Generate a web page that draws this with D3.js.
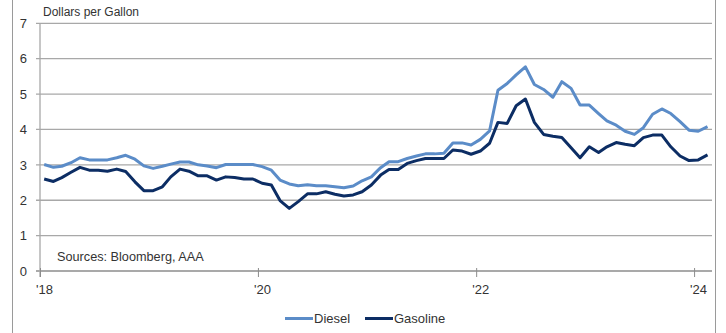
<!DOCTYPE html>
<html>
<head>
<meta charset="utf-8">
<script src="https://cdn.jsdelivr.net/npm/d3@7"></script>
<style>
  html, body { margin: 0; padding: 0; background: #fff; }
  svg { display: block; font-family: "Liberation Sans", Arial, sans-serif; }
</style>
</head>
<body>
<svg id="chart" width="726" height="333"></svg>
<script>
// Monthly average retail prices, Jan 2018 – Feb 2024 (USD per gallon)
const months = d3.timeMonth.range(new Date(2018, 0, 1), new Date(2024, 2, 1));

const diesel = [
  3.01, 2.93, 2.96, 3.06, 3.20, 3.14, 3.14, 3.14, 3.20, 3.27, 3.16, 2.97,
  2.90, 2.96, 3.02, 3.08, 3.08, 3.00, 2.97, 2.92, 3.01, 3.01, 3.01, 3.01,
  2.95, 2.85, 2.57, 2.46, 2.41, 2.44, 2.41, 2.41, 2.38, 2.35, 2.40, 2.55,
  2.66, 2.92, 3.09, 3.09, 3.18, 3.25, 3.31, 3.31, 3.33, 3.62, 3.62, 3.56,
  3.72, 3.96, 5.11, 5.30, 5.54, 5.77, 5.27, 5.13, 4.91, 5.35, 5.16, 4.69,
  4.69, 4.45, 4.24, 4.12, 3.95, 3.86, 4.05, 4.43, 4.58, 4.45, 4.22, 3.98,
  3.95, 4.08
];

const gasoline = [
  2.60, 2.53, 2.64, 2.79, 2.93, 2.85, 2.85, 2.82, 2.88, 2.81, 2.52, 2.27,
  2.27, 2.38, 2.66, 2.88, 2.82, 2.69, 2.69, 2.57, 2.66, 2.64, 2.60, 2.60,
  2.48, 2.43, 1.99, 1.77, 1.96, 2.18, 2.18, 2.24, 2.17, 2.12, 2.15, 2.24,
  2.43, 2.71, 2.87, 2.87, 3.04, 3.12, 3.18, 3.18, 3.18, 3.42, 3.39, 3.30,
  3.39, 3.61, 4.20, 4.17, 4.67, 4.86, 4.20, 3.86, 3.81, 3.77, 3.48, 3.20,
  3.51, 3.35, 3.51, 3.63, 3.58, 3.54, 3.77, 3.84, 3.84, 3.51, 3.25, 3.12,
  3.14, 3.28
];

const seriesNames = ["Diesel", "Gasoline"];
const seriesColors = ["#5b8cc8", "#0c2d64"];
const yTicks = [0, 1, 2, 3, 4, 5, 6, 7];
const xTickYears = [2018, 2020, 2022, 2024];

const svg = d3.select("#chart");
const textColor = "#333";

const plot = { left: 40, right: 712, top: 23.3, bottom: 271 };

const x = d3.scaleTime()
  .domain([new Date(2018, 0, 1), new Date(2024, 2, 1)])
  .range([plot.left, plot.right]);

const y = d3.scaleLinear()
  .domain([0, 7])
  .range([plot.bottom, plot.top]);

// Panel frame edges
svg.append("line").attr("x1", 12.5).attr("x2", 12.5).attr("y1", 0).attr("y2", 333)
  .attr("stroke", "#9a9a9a").attr("stroke-width", 1);
svg.append("line").attr("x1", 715.5).attr("x2", 715.5).attr("y1", 0).attr("y2", 333)
  .attr("stroke", "#9a9a9a").attr("stroke-width", 1);

// Horizontal gridlines with short ticks to the left of the axis
const grid = svg.append("g");
grid.selectAll("line")
  .data(yTicks)
  .join("line")
  .attr("x1", plot.left - 4)
  .attr("x2", plot.right)
  .attr("y1", d => y(d))
  .attr("y2", d => y(d))
  .attr("stroke", d => d === 0 ? "#8c8c8c" : "#a8a8a8")
  .attr("stroke-width", 1.3);

// Y axis labels
const yAxis = d3.axisLeft(y).tickValues(yTicks).tickSize(0).tickPadding(13)
  .tickFormat(d3.format("d"));
svg.append("g")
  .attr("transform", `translate(${plot.left},0)`)
  .call(yAxis)
  .call(g => g.select(".domain").remove())
  .call(g => g.selectAll("text")
    .attr("fill", textColor)
    .style("font-size", "13px")
    .style("font-family", "Liberation Sans, Arial, sans-serif"));

// Vertical axis line
svg.append("line")
  .attr("x1", plot.left).attr("x2", plot.left)
  .attr("y1", plot.top).attr("y2", plot.bottom + 6)
  .attr("stroke", "#a8a8a8").attr("stroke-width", 1.3);

// X axis ticks and labels
const xAxis = d3.axisBottom(x)
  .tickValues(xTickYears.map(yr => new Date(yr, 0, 1)))
  .tickSizeInner(6)
  .tickSizeOuter(0)
  .tickPadding(8)
  .tickFormat(d => "'" + d3.timeFormat("%y")(d));
svg.append("g")
  .attr("transform", `translate(0,${plot.bottom})`)
  .call(xAxis)
  .call(g => g.select(".domain").remove())
  .call(g => g.selectAll(".tick line")
    .attr("y1", -3)
    .attr("stroke", "#8c8c8c")
    .attr("stroke-width", 1))
  .call(g => g.selectAll("text")
    .attr("fill", textColor)
    .attr("dx", 4)
    .style("font-size", "13px")
    .style("font-family", "Liberation Sans, Arial, sans-serif"));

// Price lines (points placed mid-month)
const midMonth = d => d3.timeDay.offset(d, 14);
const line = d3.line()
  .x((d, i) => x(midMonth(months[i])))
  .y(d => y(d))
  .curve(d3.curveLinear);

[diesel, gasoline].forEach((values, k) => {
  svg.append("path")
    .datum(values)
    .attr("d", line)
    .attr("fill", "none")
    .attr("stroke", seriesColors[k])
    .attr("stroke-width", 3)
    .attr("stroke-linejoin", "round");
});

// Titles and notes
svg.append("text")
  .attr("x", 43).attr("y", 15.7)
  .attr("fill", textColor)
  .style("font-size", "12px")
  .text("Dollars per Gallon");

svg.append("text")
  .attr("x", 57).attr("y", 261)
  .attr("fill", textColor)
  .style("font-size", "12.7px")
  .text("Sources: Bloomberg, AAA");

// Legend
const legend = svg.append("g");
const legendItems = [
  { name: seriesNames[0], color: seriesColors[0], x0: 285, x1: 313 },
  { name: seriesNames[1], color: seriesColors[1], x0: 365, x1: 393 }
];
legendItems.forEach(it => {
  legend.append("line")
    .attr("x1", it.x0).attr("x2", it.x1)
    .attr("y1", 318.5).attr("y2", 318.5)
    .attr("stroke", it.color).attr("stroke-width", 3);
  legend.append("text")
    .attr("x", it.x1 + 1).attr("y", 322.7)
    .attr("fill", textColor)
    .style("font-size", "13px")
    .text(it.name);
});
</script>
</body>
</html>
